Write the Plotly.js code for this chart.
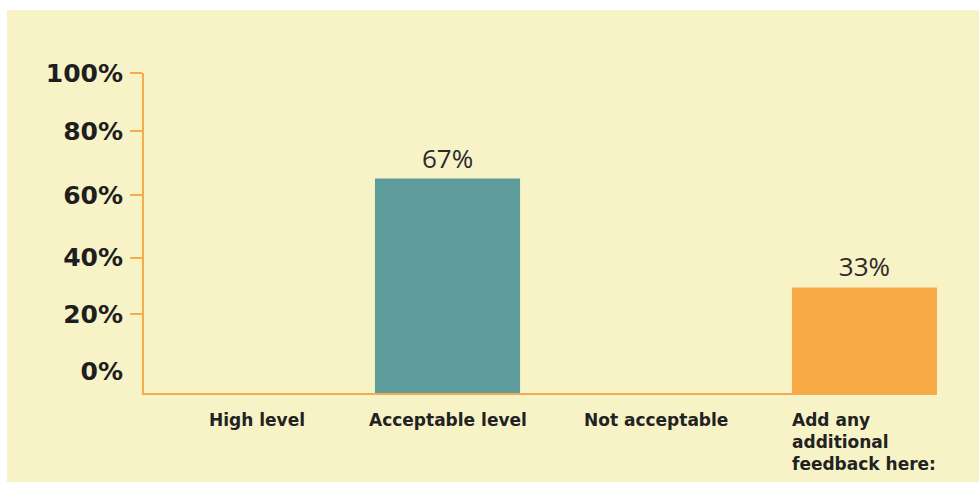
<!DOCTYPE html>
<html>
<head>
<meta charset="utf-8">
<script src="https://cdn.plot.ly/plotly-3.0.1.min.js"></script>
<style>
  html, body { margin: 0; padding: 0; background: #ffffff; width: 979px; height: 485px; overflow: hidden; }
  #chart { position: absolute; left: 7px; top: 10px; width: 972px; height: 472px; }
</style>
</head>
<body>
<div id="chart"></div>
<script>
// ---- data ----
const categories = ["High level", "Acceptable level", "Not acceptable", "Add any additional feedback here:"];
const categoryLabels = ["High level", "Acceptable level", "Not acceptable", "Add any<br>additional<br>feedback here:"];
const values = [0, 67, 0, 33];
const valueLabels = ["", "67%", "", "33%"];
const barColors = ["#5e9b9b", "#5e9b9b", "#5e9b9b", "#f6a945"];
const yTickLabels = ["0%", "20%", "40%", "60%", "80%", "100%"];

// ---- layout-only positions ----
const yTickPositions = [6.7, 24.7, 42.3, 61.9, 81.9, 100];
const yTickMarkPositions = [24.7, 42.3, 61.9, 81.9, 100];
const labelShifts = [18, 0, 0, -74];
const labelAnchors = ["center", "center", "center", "left"];

const axisOrange = "#f5aa4c";
const bg = "#f7f3c7";

const trace = {
  type: "bar",
  x: categories,
  y: values,
  width: 0.696,
  marker: { color: barColors, line: { width: 0 } },
  text: valueLabels,
  textposition: "outside",
  cliponaxis: false,
  textfont: { family: "Open Sans", size: 26, color: "#2b2b2b" },
  hoverinfo: "none"
};

const annotations = categories.map((c, i) => ({
  x: c, xref: "x",
  y: 0, yref: "y",
  yanchor: "top",
  yshift: -15,
  xanchor: labelAnchors[i],
  xshift: labelShifts[i],
  align: "left",
  showarrow: false,
  text: categoryLabels[i],
  font: { family: "DejaVu Sans", size: 17, color: "#222222", weight: "bold" }
}));

const layout = {
  width: 972, height: 472,
  paper_bgcolor: bg, plot_bgcolor: bg,
  margin: { l: 137, r: 42, t: 63, b: 89 },
  showlegend: false,
  bargap: 0.3,
  xaxis: {
    type: "category",
    range: [-0.456, 3.348],
    showticklabels: false,
    ticks: "",
    showline: true, linecolor: axisOrange, linewidth: 2,
    showgrid: false, zeroline: false, fixedrange: true
  },
  yaxis: {
    range: [0, 100],
    tickvals: yTickPositions,
    ticktext: yTickLabels,
    ticks: "",
    ticklabelstandoff: 14,
    tickfont: { family: "DejaVu Sans", size: 25, color: "#1e1e1e", weight: "bold" },
    minor: { tickvals: yTickMarkPositions, ticks: "outside", ticklen: 12, tickwidth: 2, tickcolor: axisOrange, showgrid: false },
    showline: true, linecolor: axisOrange, linewidth: 2,
    showgrid: false, zeroline: false, fixedrange: true
  },
  annotations: annotations
};

Plotly.newPlot("chart", [trace], layout, { displayModeBar: false, staticPlot: true });
</script>
</body>
</html>
